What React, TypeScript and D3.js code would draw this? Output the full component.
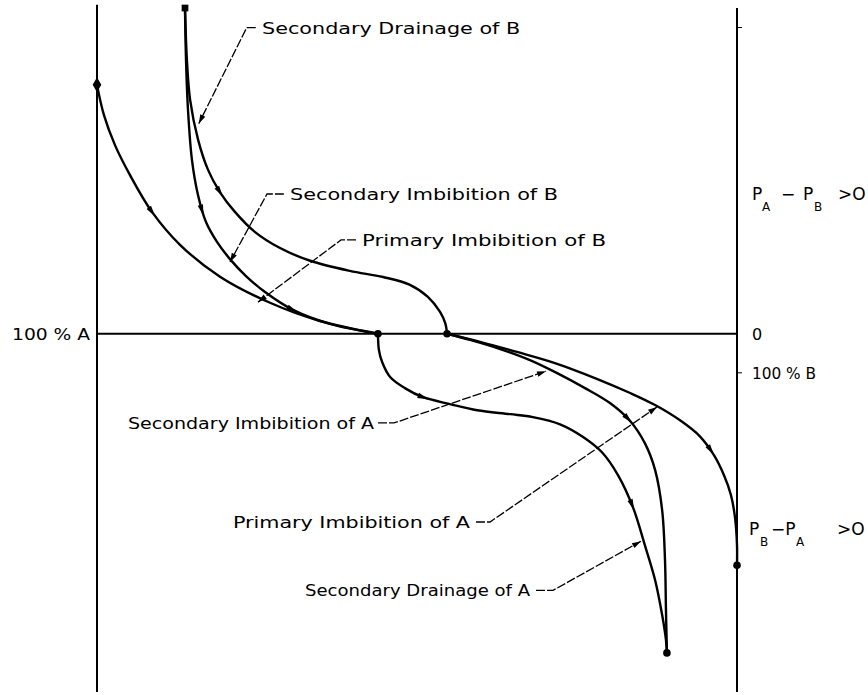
import React, { useEffect, useRef } from "react";
import * as d3 from "d3";

const W = 868;
const H = 695;

// Horizontal: saturation, 0 = 100 % A (left) … 100 = 100 % B (right)
// Vertical: capillary pressure PA − PB (positive upward)
const satDomain: [number, number] = [0, 100];
const pcDomain: [number, number] = [-11, 10];

type Pt = [number, number];

// ---- B-side curves (upper half) ----
const primaryImbibitionB: Pt[] = [
  [0, 7.64], [1.09, 6.71], [2.81, 5.79], [5.16, 4.87], [8.59, 3.74],
  [12.97, 2.73], [19.22, 1.75], [27.03, 0.95], [34.84, 0.39], [43.9, 0],
];

const secondaryImbibitionB: Pt[] = [
  [13.75, 10.0], [13.91, 8.4], [14.22, 6.87], [14.84, 5.33], [15.78, 4.26],
  [17.03, 3.43], [18.75, 2.82], [20.78, 2.29], [23.28, 1.77], [26.25, 1.28],
  [30.63, 0.73], [36.41, 0.3], [43.9, 0],
];

const secondaryDrainageB: Pt[] = [
  [13.75, 10.0], [14.05, 8.4], [14.55, 7.18], [15.8, 5.95], [17.35, 5.03],
  [19.2, 4.35], [21.55, 3.74], [24.7, 3.12], [28.6, 2.63], [33.3, 2.24],
  [39.5, 1.93], [44.7, 1.74], [48.9, 1.5], [51.7, 1.13], [53.6, 0.67],
  [54.4, 0.33], [54.7, 0],
];

// ---- A-side curves (lower half) ----
const secondaryDrainageA: Pt[] = [
  [43.9, 0], [44.05, -0.5], [44.55, -0.87], [45.8, -1.33], [48.1, -1.67],
  [50.95, -1.95], [55.15, -2.16], [59.4, -2.35], [64.55, -2.47], [68.1, -2.56],
  [72.35, -2.78], [75.95, -3.17], [78.9, -3.64], [81.4, -4.34], [83.75, -5.33],
  [85.6, -6.49], [87.2, -7.56], [88.3, -8.63], [88.9, -9.4], [89.05, -9.8],
];

const secondaryImbibitionA: Pt[] = [
  [54.7, 0], [58.3, -0.19], [63.0, -0.47], [67.65, -0.81], [71.9, -1.21],
  [76.25, -1.67], [80.15, -2.13], [83.3, -2.68], [85.6, -3.36], [87.2, -4.18],
  [88.3, -5.41], [88.75, -6.95], [88.9, -8.48], [89.05, -9.8],
];

const primaryImbibitionA: Pt[] = [
  [54.7, 0], [59.85, -0.25], [65.6, -0.56], [71.55, -0.9], [77.8, -1.36],
  [83.3, -1.82], [87.2, -2.19], [91.1, -2.66], [94.2, -3.15], [96.4, -3.73],
  [97.95, -4.34], [99.05, -4.95], [99.7, -5.66], [100, -6.49], [100, -7.11],
];

const curves: { id: string; pts: Pt[]; arrowsAt: number[] }[] = [
  { id: "primaryImbibitionB", pts: primaryImbibitionB, arrowsAt: [8.6] },
  { id: "secondaryImbibitionB", pts: secondaryImbibitionB, arrowsAt: [16.4, 30.5] },
  { id: "secondaryDrainageB", pts: secondaryDrainageB, arrowsAt: [19.2] },
  { id: "secondaryDrainageA", pts: secondaryDrainageA, arrowsAt: [51.0, 83.6] },
  { id: "secondaryImbibitionA", pts: secondaryImbibitionA, arrowsAt: [83.0] },
  { id: "primaryImbibitionA", pts: primaryImbibitionA, arrowsAt: [95.9] },
];

// End points of the cycles
const diamondPoints: Pt[] = [[0, 7.64]];
const squarePoints: Pt[] = [[13.75, 10.0]];
const dotPoints: Pt[] = [[43.9, 0], [54.7, 0], [89.05, -9.8], [100, -7.11]];

// Curve labels: text position (baseline), anchor, leader polyline
const curveLabels: { text: string; at: Pt; anchor: string; len: number; leader: Pt[] }[] = [
  { text: "Secondary Drainage of B", at: [25.8, 9.2], anchor: "start", len: 258,
    leader: [[24.8, 9.4], [23.4, 9.4], [15.9, 6.45]] },
  { text: "Secondary Imbibition of B", at: [30.16, 4.1], anchor: "start", len: 268,
    leader: [[29.2, 4.29], [26.56, 4.29], [20.78, 2.2]] },
  { text: "Primary Imbibition of B", at: [41.41, 2.68], anchor: "start", len: 244,
    leader: [[40.47, 2.88], [38.13, 2.88], [25.16, 0.97]] },
  { text: "Secondary Imbibition of A", at: [43.28, -2.94], anchor: "end", len: 246,
    leader: [[43.91, -2.74], [46.41, -2.74], [70.16, -1.15]] },
  { text: "Primary Imbibition of A", at: [58.28, -5.98], anchor: "end", len: 237,
    leader: [[59.22, -5.78], [61.41, -5.78], [87.5, -2.25]] },
  { text: "Secondary Drainage of A", at: [67.66, -8.06], anchor: "end", len: 225,
    leader: [[68.59, -7.88], [71.25, -7.88], [85.0, -6.37]] },
];

// Pressure-difference labels on the right: pieces of text with offsets (main or subscript)
const paLabel: { t: string; dx: number; sub: boolean }[] = [
  { t: "P", dx: 0, sub: false },
  { t: "A", dx: 10, sub: true },
  { t: "−", dx: 29, sub: false },
  { t: "P", dx: 51, sub: false },
  { t: "B", dx: 62, sub: true },
  { t: ">O", dx: 86, sub: false },
];
const pbLabel: { t: string; dx: number; sub: boolean }[] = [
  { t: "P", dx: 0, sub: false },
  { t: "B", dx: 11, sub: true },
  { t: "−P", dx: 22, sub: false },
  { t: "A", dx: 47, sub: true },
  { t: ">O", dx: 88, sub: false },
];

const FONT = "'DejaVu Sans', 'Liberation Sans', sans-serif";

export default function App() {
  const ref = useRef<SVGSVGElement>(null);

  useEffect(() => {
    const svg = d3.select(ref.current);
    svg.selectAll("*").remove();

    const x = d3.scaleLinear().domain(satDomain).range([97, 737]);
    const y = d3.scaleLinear().domain(pcDomain).range([692, 8]);

    svg.append("rect").attr("width", W).attr("height", H).attr("fill", "#fff");

    const axes = svg.append("g").attr("stroke", "#000").attr("stroke-width", 2);
    // Left and right boundaries, zero-pressure line
    axes.append("line").attr("x1", x(0)).attr("x2", x(0)).attr("y1", y(10.1)).attr("y2", y(-11));
    axes.append("line").attr("x1", x(100)).attr("x2", x(100)).attr("y1", y(10)).attr("y2", y(-11));
    axes.append("line").attr("x1", x(0)).attr("x2", x(100)).attr("y1", y(0)).attr("y2", y(0));
    // small ticks on the right boundary
    [9.4, -1.2].forEach((v) => {
      axes.append("line").attr("x1", x(100)).attr("x2", x(100) + 5)
        .attr("y1", y(v)).attr("y2", y(v)).attr("stroke-width", 1);
    });

    const line = d3.line<Pt>()
      .x((d) => x(d[0]))
      .y((d) => y(d[1]))
      .curve(d3.curveCatmullRom.alpha(0.5));

    const gCurves = svg.append("g");
    const gArrows = svg.append("g").attr("fill", "#000");

    const arrowHead = (cx: number, cy: number, ang: number, size: number) => {
      gArrows.append("path")
        .attr("d", `M${size},0 L${-size},${-size * 0.5} L${-size},${size * 0.5} Z`)
        .attr("transform", `translate(${cx},${cy}) rotate(${ang})`);
    };

    curves.forEach((c) => {
      const p = gCurves.append("path")
        .attr("d", line(c.pts))
        .attr("fill", "none")
        .attr("stroke", "#000")
        .attr("stroke-width", 2.4)
        .attr("stroke-linecap", "round");
      const node = p.node() as SVGPathElement;
      const L = node.getTotalLength();
      c.arrowsAt.forEach((ax) => {
        const tx = x(ax);
        let best = 0;
        let bd = Infinity;
        for (let l = 0; l <= L; l += 0.5) {
          const q = node.getPointAtLength(l);
          const dd = Math.abs(q.x - tx);
          if (dd < bd) { bd = dd; best = l; }
        }
        const a = node.getPointAtLength(Math.max(0, best - 3));
        const b = node.getPointAtLength(Math.min(L, best + 3));
        const m = node.getPointAtLength(best);
        const ang = (Math.atan2(b.y - a.y, b.x - a.x) * 180) / Math.PI;
        arrowHead(m.x, m.y, ang, 5.5);
      });
    });

    // end markers
    const gPts = svg.append("g").attr("fill", "#000");
    diamondPoints.forEach((d) => {
      gPts.append("path").attr("d", d3.symbol(d3.symbolDiamond, 65)())
        .attr("transform", `translate(${x(d[0])},${y(d[1])})`);
    });
    squarePoints.forEach((d) => {
      gPts.append("path").attr("d", d3.symbol(d3.symbolSquare, 45)())
        .attr("transform", `translate(${x(d[0])},${y(d[1])})`);
    });
    dotPoints.forEach((d) => {
      gPts.append("circle").attr("cx", x(d[0])).attr("cy", y(d[1])).attr("r", 3.8);
    });

    // curve labels and leaders
    const gLab = svg.append("g");
    curveLabels.forEach((lab) => {
      gLab.append("text")
        .attr("x", x(lab.at[0]))
        .attr("y", y(lab.at[1]))
        .attr("text-anchor", lab.anchor)
        .attr("font-family", FONT)
        .attr("font-size", 16)
        .attr("textLength", lab.len)
        .attr("lengthAdjust", "spacingAndGlyphs")
        .attr("fill", "#000")
        .text(lab.text);
      const pts = lab.leader.map((p) => [x(p[0]), y(p[1])] as [number, number]);
      gLab.append("path")
        .attr("d", d3.line()(pts))
        .attr("fill", "none")
        .attr("stroke", "#000")
        .attr("stroke-width", 1.3)
        .attr("stroke-dasharray", "9,2");
      const e = pts[pts.length - 1];
      const s = pts[pts.length - 2];
      const ang = (Math.atan2(e[1] - s[1], e[0] - s[0]) * 180) / Math.PI;
      gLab.append("path")
        .attr("d", "M0,0 L-9,-2.8 L-9,2.8 Z")
        .attr("fill", "#000")
        .attr("transform", `translate(${e[0]},${e[1]}) rotate(${ang})`);
    });

    // axis annotations
    const gAx = svg.append("g").attr("font-family", FONT).attr("font-size", 16).attr("fill", "#000");
    gAx.append("text").attr("x", x(0) - 7).attr("y", y(-0.2)).attr("text-anchor", "end")
      .attr("textLength", 78).attr("lengthAdjust", "spacingAndGlyphs").text("100 % A");
    gAx.append("text").attr("x", x(100) + 15).attr("y", y(-0.2)).text("0");
    gAx.append("text").attr("x", x(100) + 15).attr("y", y(-1.38))
      .attr("textLength", 64).attr("lengthAdjust", "spacingAndGlyphs").text("100 % B");

    const drawPressure = (
      parts: { t: string; dx: number; sub: boolean }[],
      px: number,
      py: number
    ) => {
      parts.forEach((p) => {
        gAx.append("text")
          .attr("x", px + p.dx)
          .attr("y", py + (p.sub ? 11 : 0))
          .attr("font-size", p.sub ? 12 : 17)
          .text(p.t);
      });
    };
    drawPressure(paLabel, x(100) + 15, y(4.1));
    drawPressure(pbLabel, x(100) + 12, y(-6.18));
  }, []);

  return (
    <svg
      ref={ref}
      width={W}
      height={H}
      style={{ position: "absolute", left: 0, top: 0, display: "block" }}
    />
  );
}
